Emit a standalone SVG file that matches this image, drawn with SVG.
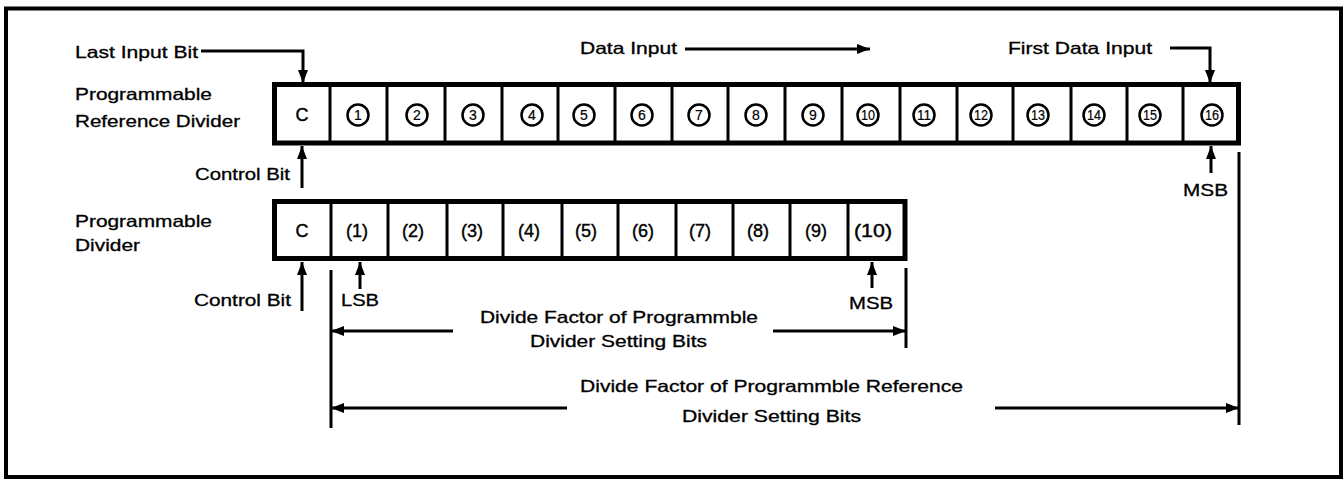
<svg xmlns="http://www.w3.org/2000/svg" width="1344" height="479" viewBox="0 0 1344 479">
<style>
.lbl{font-family:"Liberation Sans",Arial,sans-serif;font-size:16.5px;fill:#000;stroke:#000;stroke-width:0.3}
.cell{font-family:"Liberation Sans",Arial,sans-serif;font-size:18px;fill:#000;stroke:#000;stroke-width:0.4;text-anchor:middle}
.num{font-family:"Liberation Sans",Arial,sans-serif;font-size:14px;fill:#000;stroke:#000;stroke-width:0.2;text-anchor:middle}
.reg{fill:#fff;stroke:#000;stroke-width:5}
.div{stroke:#000;stroke-width:3;fill:none}
.circ{fill:#fff;stroke:#000;stroke-width:2.5}
.con{stroke:#000;stroke-width:3;fill:none}
</style>
<defs>
<marker id="ah" markerUnits="userSpaceOnUse" markerWidth="13" markerHeight="10" refX="13" refY="5" orient="auto">
<path d="M0,0 L13,5 L0,10 z" fill="#000"/>
</marker>
</defs>
<rect x="0" y="0" width="1344" height="479" fill="#fff"/>
<rect id="frame" x="6" y="8.5" width="1335" height="468.5" fill="none" stroke="#000" stroke-width="4"/>

<g id="ref-divider">
<rect class="reg" x="274.5" y="84.5" width="964" height="58.5"/>
<path class="div" d="M330,84.5V143M387,84.5V143M445,84.5V143M502,84.5V143M558,84.5V143M615,84.5V143M672,84.5V143M728,84.5V143M785,84.5V143M842,84.5V143M900,84.5V143M957,84.5V143M1013,84.5V143M1071,84.5V143M1127,84.5V143M1183,84.5V143"/>
<text class="cell" x="302" y="121">C</text>
<g>
<circle class="circ" cx="358" cy="115" r="10.5"/><text class="num" x="358" y="120">1</text>
<circle class="circ" cx="417" cy="115" r="10.5"/><text class="num" x="417" y="120">2</text>
<circle class="circ" cx="473" cy="115" r="10.5"/><text class="num" x="473" y="120">3</text>
<circle class="circ" cx="532" cy="115" r="10.5"/><text class="num" x="532" y="120">4</text>
<circle class="circ" cx="584" cy="115" r="10.5"/><text class="num" x="584" y="120">5</text>
<circle class="circ" cx="642" cy="115" r="10.5"/><text class="num" x="642" y="120">6</text>
<circle class="circ" cx="699" cy="115" r="10.5"/><text class="num" x="699" y="120">7</text>
<circle class="circ" cx="756" cy="115" r="10.5"/><text class="num" x="756" y="120">8</text>
<circle class="circ" cx="813" cy="115" r="10.5"/><text class="num" x="813" y="120">9</text>
<circle class="circ" cx="868" cy="115" r="10.5"/><text class="num" x="868" y="120" textLength="14" lengthAdjust="spacingAndGlyphs">10</text>
<circle class="circ" cx="924" cy="115" r="10.5"/><text class="num" x="924" y="120" textLength="14" lengthAdjust="spacingAndGlyphs">11</text>
<circle class="circ" cx="981" cy="115" r="10.5"/><text class="num" x="981" y="120" textLength="14" lengthAdjust="spacingAndGlyphs">12</text>
<circle class="circ" cx="1038" cy="115" r="10.5"/><text class="num" x="1038" y="120" textLength="14" lengthAdjust="spacingAndGlyphs">13</text>
<circle class="circ" cx="1094" cy="115" r="10.5"/><text class="num" x="1094" y="120" textLength="14" lengthAdjust="spacingAndGlyphs">14</text>
<circle class="circ" cx="1150" cy="115" r="10.5"/><text class="num" x="1150" y="120" textLength="14" lengthAdjust="spacingAndGlyphs">15</text>
<circle class="circ" cx="1212" cy="115" r="10.5"/><text class="num" x="1212" y="120" textLength="14" lengthAdjust="spacingAndGlyphs">16</text>
</g>
</g>

<g id="prog-divider">
<rect class="reg" x="274.5" y="201.5" width="630.5" height="57"/>
<path class="div" d="M331,201.5V258.5M388,201.5V258.5M447,201.5V258.5M503,201.5V258.5M562,201.5V258.5M618,201.5V258.5M676,201.5V258.5M733,201.5V258.5M790,201.5V258.5M848,201.5V258.5"/>
<text class="cell" x="302" y="237">C</text>
<text class="cell" x="357" y="237">(1)</text>
<text class="cell" x="413" y="237">(2)</text>
<text class="cell" x="472" y="237">(3)</text>
<text class="cell" x="529" y="237">(4)</text>
<text class="cell" x="586" y="237">(5)</text>
<text class="cell" x="643" y="237">(6)</text>
<text class="cell" x="700" y="237">(7)</text>
<text class="cell" x="758" y="237">(8)</text>
<text class="cell" x="816" y="237">(9)</text>
<text class="cell" x="873" y="237" textLength="38" lengthAdjust="spacingAndGlyphs">(10)</text>
</g>

<g id="labels">
<text class="lbl" x="75" y="58" textLength="123" lengthAdjust="spacingAndGlyphs">Last Input Bit</text>
<text class="lbl" x="75" y="100" textLength="137" lengthAdjust="spacingAndGlyphs">Programmable</text>
<text class="lbl" x="75" y="127" textLength="165" lengthAdjust="spacingAndGlyphs">Reference Divider</text>
<text class="lbl" x="195" y="180" textLength="95" lengthAdjust="spacingAndGlyphs">Control Bit</text>
<text class="lbl" x="580" y="54" textLength="97" lengthAdjust="spacingAndGlyphs">Data Input</text>
<text class="lbl" x="1008" y="54" textLength="144" lengthAdjust="spacingAndGlyphs">First Data Input</text>
<text class="lbl" x="1183" y="196" textLength="45" lengthAdjust="spacingAndGlyphs">MSB</text>
<text class="lbl" x="75" y="227" textLength="137" lengthAdjust="spacingAndGlyphs">Programmable</text>
<text class="lbl" x="75" y="251" textLength="65" lengthAdjust="spacingAndGlyphs">Divider</text>
<text class="lbl" x="194" y="306" textLength="97" lengthAdjust="spacingAndGlyphs">Control Bit</text>
<text class="lbl" x="341" y="306" textLength="38" lengthAdjust="spacingAndGlyphs">LSB</text>
<text class="lbl" x="849" y="309" textLength="44" lengthAdjust="spacingAndGlyphs">MSB</text>
<text class="lbl" x="480" y="323" textLength="278" lengthAdjust="spacingAndGlyphs">Divide Factor of Programmble</text>
<text class="lbl" x="530" y="347" textLength="177" lengthAdjust="spacingAndGlyphs">Divider Setting Bits</text>
<text class="lbl" x="580" y="392" textLength="383" lengthAdjust="spacingAndGlyphs">Divide Factor of Programmble Reference</text>
<text class="lbl" x="682" y="422" textLength="179" lengthAdjust="spacingAndGlyphs">Divider Setting Bits</text>
</g>

<g id="connectors">
<path class="con" d="M201,51H303V83" marker-end="url(#ah)"/>
<path class="con" d="M302,188V146" marker-end="url(#ah)"/>
<path class="con" d="M685,49H870" marker-end="url(#ah)"/>
<path class="con" d="M1170,48H1210V83" marker-end="url(#ah)"/>
<path class="con" d="M1211,173V146" marker-end="url(#ah)"/>
<path class="con" d="M1239,152V425"/>
<path class="con" d="M302,311V262" marker-end="url(#ah)"/>
<path class="con" d="M360,289V262" marker-end="url(#ah)"/>
<path class="con" d="M872,288V262" marker-end="url(#ah)"/>
<path class="con" d="M331,270V428"/>
<path class="con" d="M906,268V348"/>
<path class="con" d="M453,331H331" marker-end="url(#ah)"/>
<path class="con" d="M773,331H906" marker-end="url(#ah)"/>
<path class="con" d="M567,408H331" marker-end="url(#ah)"/>
<path class="con" d="M995,408H1239" marker-end="url(#ah)"/>
</g>
</svg>
